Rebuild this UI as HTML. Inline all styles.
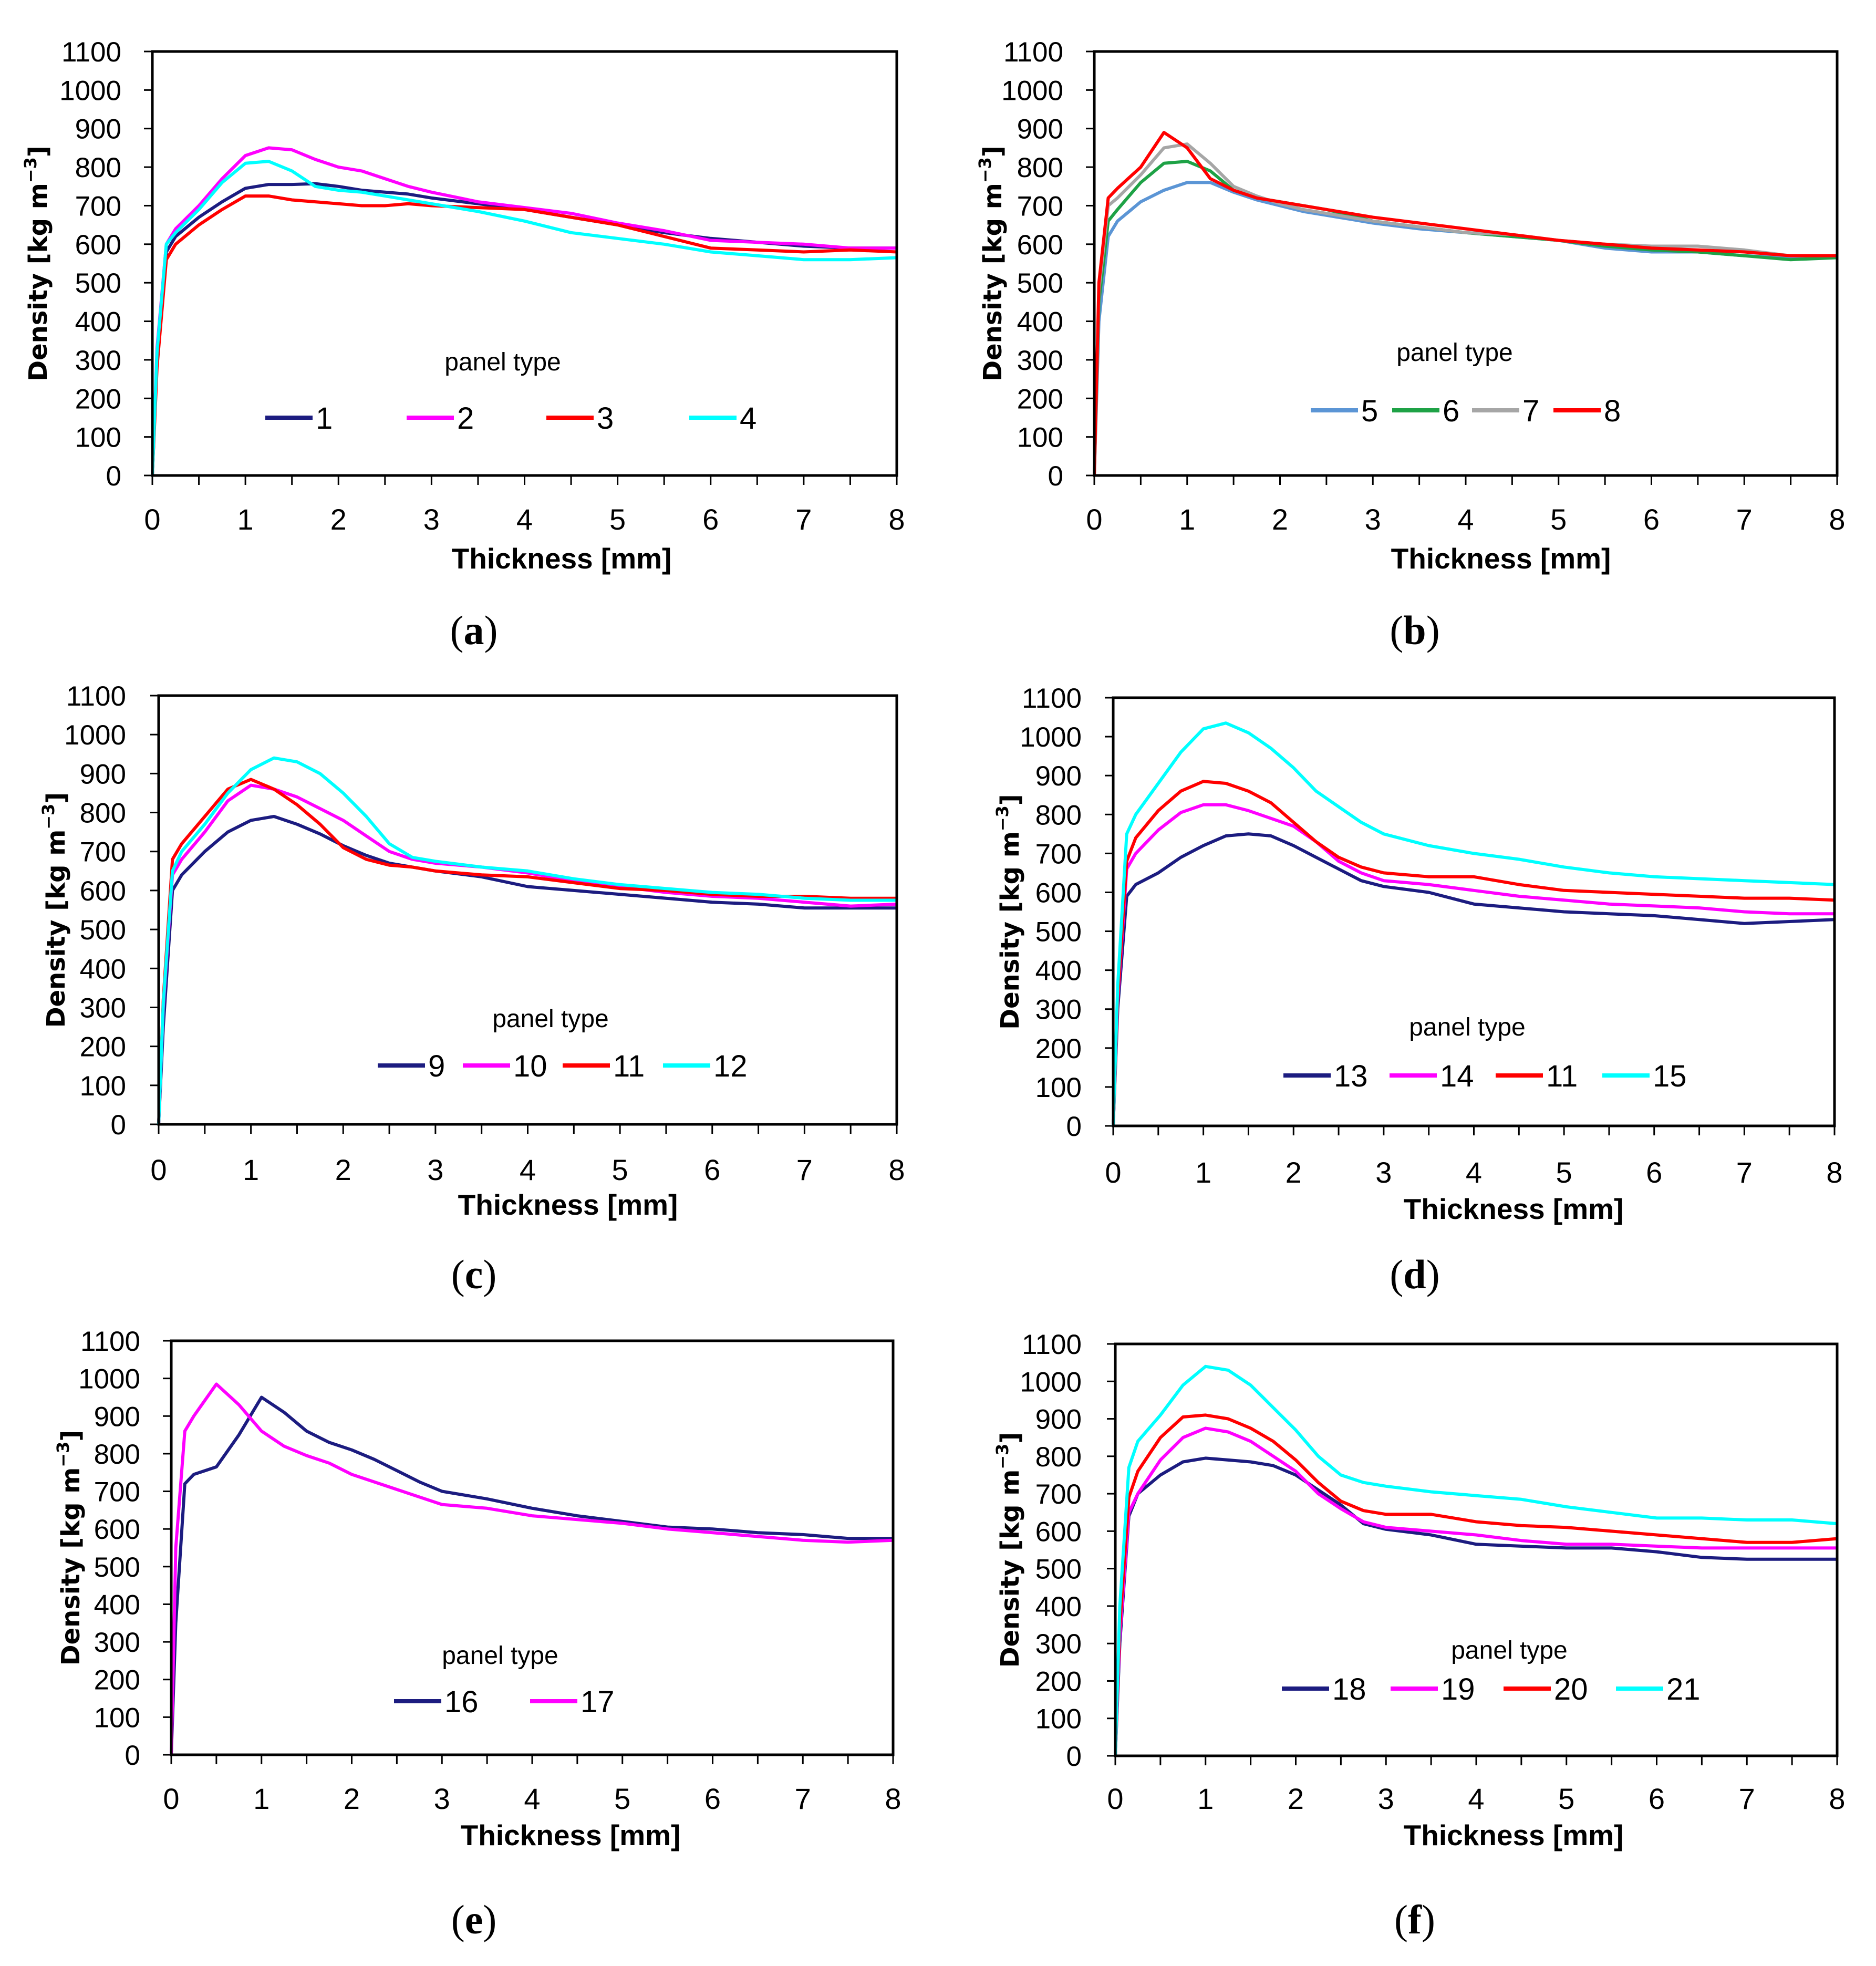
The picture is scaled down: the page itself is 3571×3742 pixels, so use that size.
<!DOCTYPE html>
<html><head><meta charset="utf-8"><style>
html,body{margin:0;padding:0;background:#fff;}
svg{display:block;}
</style></head><body>
<svg id="fig" width="3571" height="3742" viewBox="0 0 3571 3742" xmlns="http://www.w3.org/2000/svg"></svg>
<script>
const X = [0,0.05,0.15,0.25,0.5,0.75,1,1.25,1.5,1.75,2,2.25,2.5,2.75,3,3.5,4,4.5,5,5.5,6,6.5,7,7.5,8];
const yTicks = [0,100,200,300,400,500,600,700,800,900,1000,1100];
const xTicks = [0,1,2,3,4,5,6,7,8];
const s1 = [0,300,580,620,670,710,745,755,755,757,750,740,735,730,720,705,690,670,650,630,615,605,595,590,590];
const s2 = [0,330,600,640,700,770,830,850,845,820,800,790,770,750,735,710,695,680,655,635,610,605,600,590,590];
const s3 = [0,280,560,600,650,690,725,725,715,710,705,700,700,705,700,695,690,670,650,620,590,585,580,585,580];
const s4 = [0,320,600,630,690,760,810,815,790,750,740,735,725,715,705,685,660,630,615,600,580,570,560,560,565];
const s5 = [0,400,620,660,710,740,760,760,735,715,700,685,675,665,655,640,630,620,610,590,580,580,570,565,570];
const s6 = [0,450,660,690,760,810,815,790,740,720,710,700,690,675,660,645,630,620,610,595,585,580,570,560,565];
const s7 = [0,480,700,720,780,850,860,810,750,725,705,690,680,670,660,645,630,625,610,600,595,595,585,570,570];
const s8 = [0,500,720,745,800,890,850,770,740,720,710,700,690,680,670,655,640,625,610,600,590,585,580,570,570];
const s9 = [0,250,600,640,700,750,780,790,770,745,715,690,670,660,650,635,610,600,590,580,570,565,555,555,555];
const s10 = [0,300,640,680,750,830,870,860,840,810,780,740,700,680,670,660,645,625,610,595,585,580,570,560,565];
const s11c = [0,320,680,720,790,860,885,860,820,770,710,680,665,660,650,640,635,620,605,600,590,585,585,580,580];
const s12 = [0,310,650,700,770,850,910,940,930,900,850,790,720,685,675,660,650,630,615,605,595,590,580,575,575];
const s13 = [0,300,590,620,650,690,720,745,750,745,720,690,660,630,615,600,570,560,550,545,540,530,520,525,530];
const s14 = [0,320,660,700,760,805,825,825,810,790,770,730,680,650,630,620,605,590,580,570,565,560,550,545,545];
const s11d = [0,330,680,740,810,860,885,880,860,830,780,730,690,665,650,640,640,620,605,600,595,590,585,585,580];
const s15 = [0,360,750,800,880,960,1020,1035,1010,970,920,860,820,780,750,720,700,685,665,650,640,635,630,625,620];
const s16 = [0,350,720,745,765,850,950,910,860,830,810,785,755,725,700,680,655,635,620,605,600,590,585,575,575];
const s17 = [0,550,860,900,985,930,860,820,795,775,745,725,705,685,665,655,635,625,615,600,590,580,570,565,570];
const s18 = [0,300,640,700,750,785,795,790,785,775,750,710,670,620,605,590,565,560,555,555,545,530,525,525,525];
const s19 = [0,320,650,700,790,850,875,865,840,800,760,700,660,625,610,600,590,575,565,565,560,555,555,555,555];
const s20 = [0,350,690,760,850,905,910,900,875,840,790,730,680,655,645,645,625,615,610,600,590,580,570,570,580];
const s21 = [0,400,770,840,910,990,1040,1030,990,930,870,800,750,730,720,705,695,685,665,650,635,635,630,630,620];

const NAVY='#1c1c80', MAG='#ff00ff', RED='#ff0000', CYAN='#00ffff', BLUE='#5b95d5', GREEN='#1ea246', GRAY='#a6a6a6';
const panels = [
 {id:'a',L:290,R:1707,T:98,B:905,yl:231,yt:71,xl:988,xt:1069,xty:1062,pt:[957,688],ly:795,cap:[902,1222],
  series:[[s1,NAVY,'1',505],[s2,MAG,'2',774],[s3,RED,'3',1040],[s4,CYAN,'4',1312]]},
 {id:'b',L:2083,R:3497,T:98,B:905,yl:2024,yt:1888,xl:988,xt:2857,xty:1062,pt:[2769,670],ly:781,cap:[2693,1222],
  series:[[s5,BLUE,'5',2495],[s6,GREEN,'6',2650],[s7,GRAY,'7',2802],[s8,RED,'8',2957]]},
 {id:'c',L:302,R:1707,T:1324,B:2140,yl:240,yt:105,xl:2226,xt:1081,xty:2292,pt:[1048,1938],ly:2028,cap:[902,2448],
  series:[[s9,NAVY,'9',719],[s10,MAG,'10',881],[s11c,RED,'11',1071],[s12,CYAN,'12',1262]]},
 {id:'d',L:2119,R:3492,T:1328,B:2143,yl:2059,yt:1921,xl:2231,xt:2881,xty:2300,pt:[2793,1954],ly:2047,cap:[2693,2448],
  series:[[s13,NAVY,'13',2443],[s14,MAG,'14',2645],[s11d,RED,'11',2847],[s15,CYAN,'15',3050]]},
 {id:'e',L:326,R:1700,T:2552,B:3340,yl:267,yt:133,xl:3423,xt:1086,xty:3492,pt:[952,3150],ly:3238,cap:[902,3676],
  series:[[s16,NAVY,'16',750],[s17,MAG,'17',1009]]},
 {id:'f',L:2123,R:3497,T:2558,B:3342,yl:2059,yt:1921,xl:3423,xt:2881,xty:3492,pt:[2873,3140],ly:3214,cap:[2693,3676],
  series:[[s18,NAVY,'18',2440],[s19,MAG,'19',2647],[s20,RED,'20',2862],[s21,CYAN,'21',3076]]}
];
const NS='http://www.w3.org/2000/svg';
const svg=document.getElementById('fig');
function mk(tag,attrs,parent){const e=document.createElementNS(NS,tag);for(const k in attrs)e.setAttribute(k,attrs[k]);(parent||svg).appendChild(e);return e;}
const SANS='"Liberation Sans", sans-serif';
panels.forEach(p=>{
  const g=mk('g',{});
  
  
  const xs=v=>p.L+(p.R-p.L)*v/8;
  const ys=v=>p.B-(p.B-p.T)*v/1100;
  yTicks.forEach(t=>{
    const ln=mk('line',{x1:p.L-16,x2:p.L,y1:ys(t),y2:ys(t),stroke:'#000','stroke-width':3},g);
    
    
    const tx=mk('text',{x:p.yl,y:ys(t)+19,'text-anchor':'end','font-family':SANS,'font-size':53,fill:'#000'},g);
    
    
    tx.textContent=t;
  });
  for(let v=0;v<=8;v+=0.5){
    const ln=mk('line',{x1:xs(v),x2:xs(v),y1:p.B,y2:p.B+18,stroke:'#000','stroke-width':3},g);
    
    
  }
  xTicks.forEach(t=>{
    const tx=mk('text',{x:xs(t),y:p.xl+20,'text-anchor':'middle','font-family':SANS,'font-size':56,fill:'#000'},g);
    
    
    tx.textContent=t;
  });
  p.series.forEach(s=>{
    const pts=X.map((x,i)=>xs(x).toFixed(1)+','+ys(s[0][i]).toFixed(1)).join(' ');
    const pl=mk('polyline',{points:pts,fill:'none',stroke:s[1],'stroke-width':6,'stroke-linejoin':'round'},g);
    
    
    const ll=mk('line',{x1:s[3],x2:s[3]+90,y1:p.ly,y2:p.ly,stroke:s[1],'stroke-width':8},g);
    
    
    const lt=mk('text',{x:s[3]+96,y:p.ly+21,'font-family':SANS,'font-size':58,fill:'#000'},g);
    
    
    lt.textContent=s[2];
  });
  const fr=mk('rect',{x:p.L,y:p.T,width:p.R-p.L,height:p.B-p.T,fill:'none',stroke:'#000','stroke-width':5},g);
  
  
  const ptx=mk('text',{x:p.pt[0],y:p.pt[1]+17,'text-anchor':'middle','font-family':SANS,'font-size':48,fill:'#000'},g);
  
  
  ptx.textContent='panel type';
  const xt=mk('text',{x:p.xt,y:p.xty+20,'text-anchor':'middle','font-family':SANS,'font-size':55,'font-weight':'bold',fill:'#000'},g);
  
  
  xt.textContent='Thickness [mm]';
  const cy=(p.T+p.B)/2;
  const yt=mk('text',{x:0,y:0,transform:`translate(${p.yt+18},${cy}) rotate(-90)`,'text-anchor':'middle','font-family':'"DejaVu Sans", sans-serif','font-size':48,'font-weight':'bold',fill:'#000'},g);
  
  
  yt.innerHTML='Density [kg m<tspan dy="-20" font-size="32">−3</tspan><tspan dy="20">]</tspan>';
  const cp=mk('text',{x:p.cap[0],y:p.cap[1]+4,'text-anchor':'middle','font-family':'"Liberation Serif", serif','font-size':78,fill:'#000'},g);
  
  
  cp.innerHTML='(<tspan font-weight="bold">'+p.id+'</tspan>)';
});
</script>
</body></html>
